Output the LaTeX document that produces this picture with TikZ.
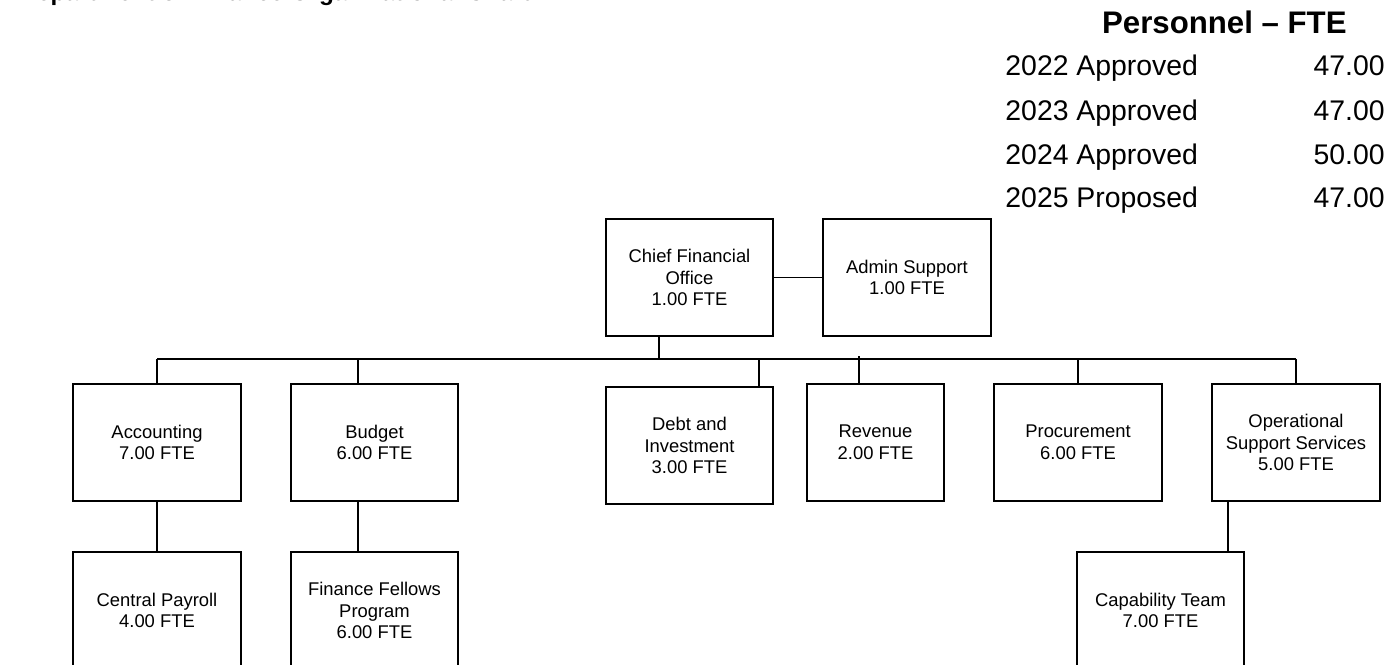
\documentclass[tikz,border=0pt]{standalone}
\usepackage{fontspec}
\setmainfont{Liberation Sans}
\begin{document}
\begin{tikzpicture}[x=0.5pt,y=-0.5pt,
  box/.style={draw,line width=0.6pt,inner sep=0pt,align=center,
    font=\fontsize{9.2}{10.9}\selectfont,minimum width=84pt,minimum height=58.5pt},
  conn/.style={line width=0.6pt},
  rowtxt/.style={inner sep=0pt,font=\fontsize{14.2}{16}\selectfont},
  hdrtxt/.style={inner sep=0pt,font=\bfseries\fontsize{15.6}{18}\selectfont}]
\useasboundingbox (0,0) rectangle (1400,664);

% title (cut off at top)
\node[anchor=base west,inner sep=0pt,font=\bfseries\fontsize{12.2}{14}\selectfont] (title) at (19,0.3) {Department of Finance Organizational Chart};

% personnel table
\node[hdrtxt,anchor=base east] (hdr) at (1347,33) {Personnel – FTE};
\node[rowtxt,anchor=base west] (r1) at (1005,75.5) {2022 Approved};
\node[rowtxt,anchor=base east] (v1) at (1385,75.5) {47.00};
\node[rowtxt,anchor=base west] (r2) at (1005,120.5) {2023 Approved};
\node[rowtxt,anchor=base east] (v2) at (1385,120.5) {47.00};
\node[rowtxt,anchor=base west] (r3) at (1005,164) {2024 Approved};
\node[rowtxt,anchor=base east] (v3) at (1385,164) {50.00};
\node[rowtxt,anchor=base west] (r4) at (1005,207.5) {2025 Proposed};
\node[rowtxt,anchor=base east] (v4) at (1385,207.5) {47.00};

% boxes
\node[box,minimum width=83.5pt] (cfo) at (689.5,277.5) {Chief Financial\\Office\\1.00 FTE};
\node[box] (admin) at (907,277.5) {Admin Support\\1.00 FTE};
\node[box] (acc) at (157,442.5) {Accounting\\7.00 FTE};
\node[box,minimum width=83.5pt] (bud) at (374.5,442.5) {Budget\\6.00 FTE};
\node[box,minimum width=83.5pt] (debt) at (689.5,445.5) {Debt and\\Investment\\3.00 FTE};
\node[box,minimum width=68.5pt] (rev) at (875.5,442.5) {Revenue\\2.00 FTE};
\node[box] (proc) at (1078,442.5) {Procurement\\6.00 FTE};
\node[box] (oss) at (1296,442.5) {Operational\\Support Services\\5.00 FTE};
\node[box] (pay) at (157,610.5) {Central Payroll\\4.00 FTE};
\node[box,minimum width=83.5pt] (ffp) at (374.5,610.5) {Finance Fellows\\Program\\6.00 FTE};
\node[box,minimum width=83.5pt] (cap) at (1160.5,610.5) {Capability Team\\7.00 FTE};

% connector anchors
\coordinate (busL) at (157,359);
\coordinate (busR) at (1296,359);
\coordinate (busT) at (960,359);
\coordinate (cfoX) at (659,359);
\coordinate (budX) at (358,359);
\coordinate (debtX) at (759,359);
\coordinate (revX) at (859,356);
\coordinate (ossX) at (1228,501);

% connectors
\draw[conn] (cfo.east) -- (admin.west);
\draw[conn] (busL) -- (busR);
\draw[line width=1pt] (busT) -- (proc.north |- busT);
\draw[conn] (cfoX |- cfo.south) -- (cfoX);
\draw[conn] (acc.north) -- (acc.north |- busL);
\draw[conn] (budX) -- (budX |- bud.north);
\draw[conn] (debtX) -- (debtX |- debt.north);
\draw[conn] (revX) -- (revX |- rev.north);
\draw[conn] (proc.north) -- (proc.north |- busL);
\draw[conn] (oss.north) -- (oss.north |- busL);
\draw[conn] (acc.south) -- (pay.north);
\draw[conn] (budX |- bud.south) -- (budX |- ffp.north);
\draw[conn] (ossX |- oss.south) -- (ossX |- cap.north);
\end{tikzpicture}
\end{document}
